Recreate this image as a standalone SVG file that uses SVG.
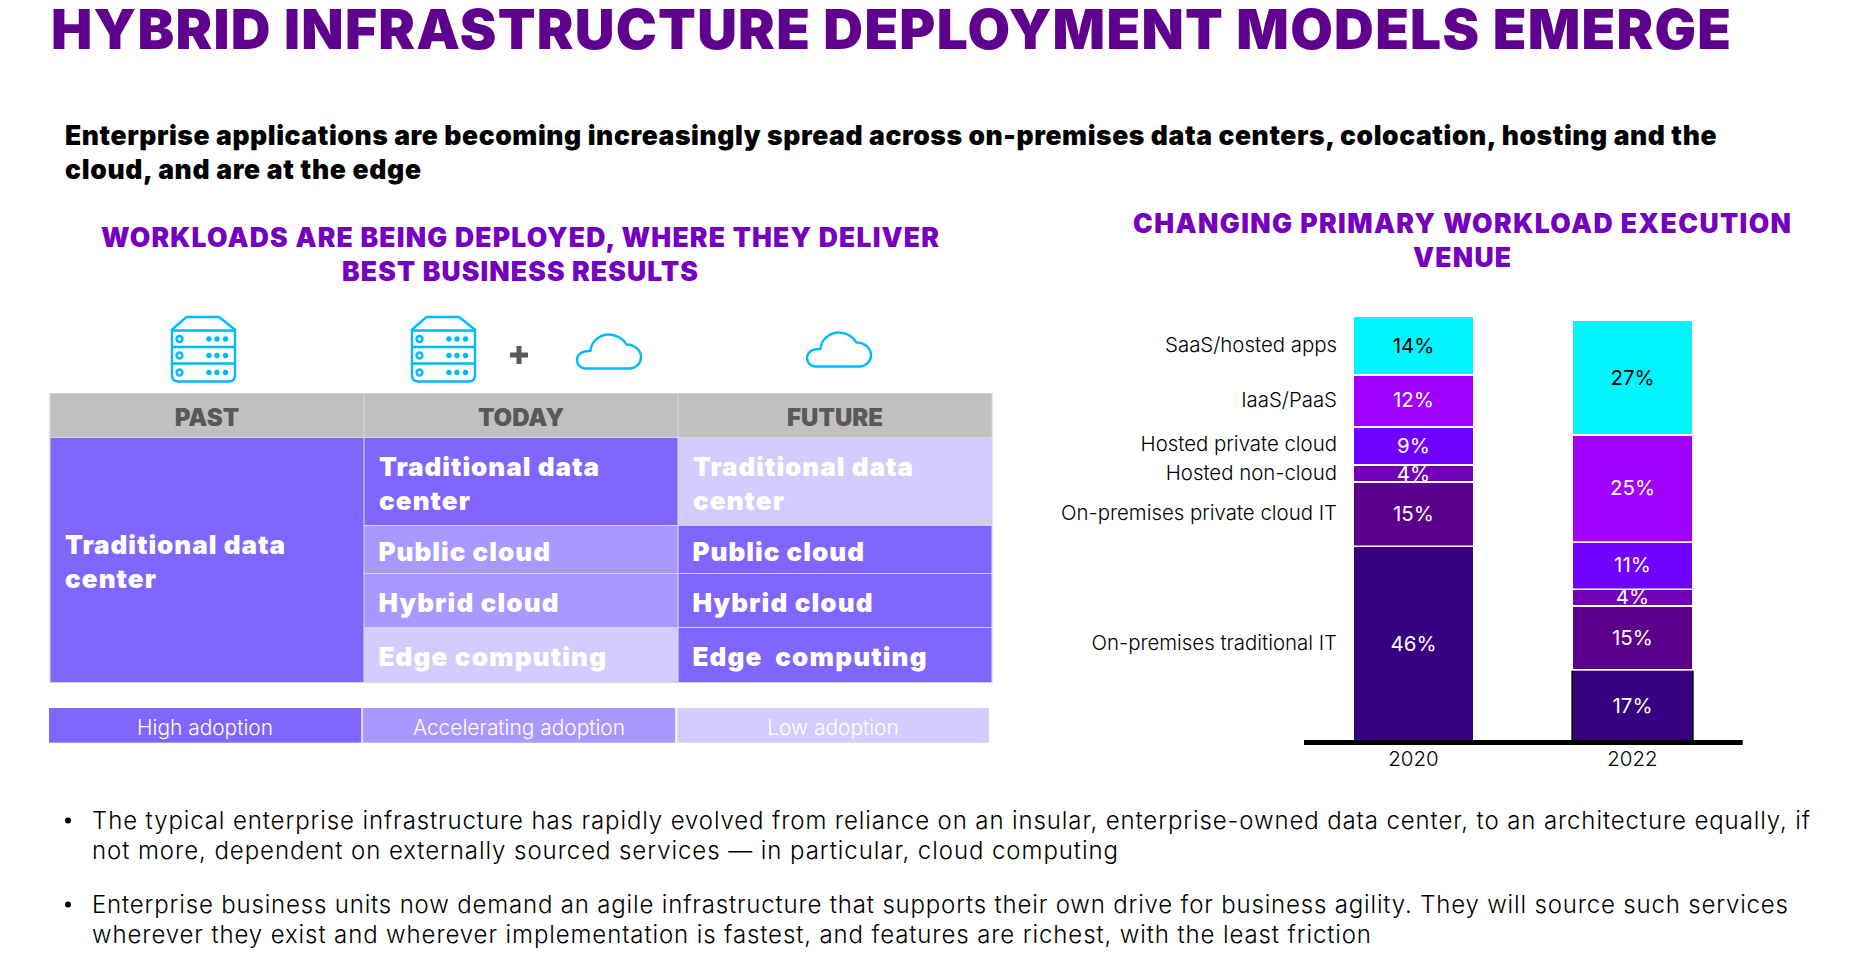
<svg xmlns="http://www.w3.org/2000/svg" xmlns:xlink="http://www.w3.org/1999/xlink" width="1866" height="966" viewBox="0 0 1866 966">
<style>
text{font-family:Inter,"Liberation Sans",sans-serif}
.title{font-size:55px;font-weight:900;fill:#5f008f}
.sub{font-size:26.500px;font-weight:900;fill:#000}
.sec{font-size:26.500px;font-weight:900;fill:#7500c0;text-anchor:middle}
.hd{font-size:24px;font-weight:900;fill:#595959;text-anchor:middle}
.cell{font-size:26px;font-weight:900;fill:#fff}
.ad{font-size:20.900px;font-weight:300;fill:#fff;text-anchor:middle}
.body{font-size:24px;font-weight:350;fill:#000}
.lab{font-size:20.400px;font-weight:350;fill:#000;text-anchor:end}
.pw{font-size:20.500px;font-weight:400;fill:#fff;text-anchor:middle}
.pk{font-size:20.500px;font-weight:400;fill:#000;text-anchor:middle}
.yr{font-size:20.500px;font-weight:350;fill:#000;text-anchor:middle}
.c1{fill:#8066ff}.c2{fill:#a898ff}.c3{fill:#d4ccff}
.g{fill:#c0c0c0}
.line{stroke:#d4d4d4;stroke-width:1.200;fill:none}
.ic{fill:none;stroke:#00baff;stroke-width:2.400;stroke-linejoin:round}
.icf{fill:#00baff}
.icr{fill:none;stroke:#00baff;stroke-width:2.400}
</style>
<defs>
<g id="server">
<path class="ic" d="M0 13.500L15.500 0H48L65 13.500M1 13.500H64V58Q64 64.500 58 64.500H7Q1 64.500 1 58ZM1 30H64M1 46.500H64"/>
<circle class="icr" cx="8.500" cy="22" r="3"/><circle class="icr" cx="8.500" cy="38.500" r="3"/><circle class="icr" cx="8.500" cy="55.500" r="3"/>
<g class="icf">
<circle cx="38" cy="22" r="2.700"/><circle cx="46" cy="22" r="2.700"/><circle cx="54.500" cy="22" r="2.700"/>
<circle cx="38" cy="38.500" r="2.700"/><circle cx="46" cy="38.500" r="2.700"/><circle cx="54.500" cy="38.500" r="2.700"/>
<circle cx="38" cy="55.500" r="2.700"/><circle cx="46" cy="55.500" r="2.700"/><circle cx="54.500" cy="55.500" r="2.700"/>
</g>
</g>
<path id="cloud" class="ic" d="M8.500 34H52C59 34 64 29 64 22.500C64 15.500 57.500 10 49.500 10C46 4 39 0 32 0C22 0 14 7.500 13.500 16.500C6 16 0 19.500 0 25.500C0 30.500 4 34 8.500 34Z"/>
</defs>
<rect width="1866" height="966" fill="#fff"/>
<g id="heading">
<text class="title" x="51" y="49" textLength="1680">HYBRID INFRASTRUCTURE DEPLOYMENT MODELS EMERGE</text>
<text class="sub" x="65" y="144.500" textLength="1651.500">Enterprise applications are becoming increasingly spread across on-premises data centers, colocation, hosting and the</text>
<text class="sub" x="65" y="178.500" textLength="356">cloud, and are at the edge</text>
</g>
<g id="left-title">
<text class="sec" x="520" y="246.500" textLength="838">WORKLOADS ARE BEING DEPLOYED, WHERE THEY DELIVER</text>
<text class="sec" x="520" y="280.500" textLength="356">BEST BUSINESS RESULTS</text>
</g>
<g id="icons">
<use xlink:href="#server" href="#server" x="171" y="317"/>
<use xlink:href="#server" href="#server" x="411" y="317"/>
<path d="M516.500 346H521.500V352.500H528V357.500H521.500V364H516.500V357.500H510V352.500H516.500Z" fill="#595959"/>
<use xlink:href="#cloud" href="#cloud" x="577" y="334.500"/>
<use xlink:href="#cloud" href="#cloud" x="807" y="332.500"/>
</g>
<g id="table">
<g id="header">
<rect class="g" x="50" y="393.500" width="942" height="44"/>
<text class="hd" x="207" y="425.700">PAST</text>
<text class="hd" x="521" y="425.700">TODAY</text>
<text class="hd" x="835" y="425.700">FUTURE</text>
</g>
<g id="past-dc"><rect class="c1" x="50" y="437.500" width="314" height="245"/>
<text class="cell" x="65" y="553.500" textLength="220">Traditional data</text><text class="cell" x="65" y="587.500" textLength="91">center</text></g>
<g id="today-dc"><rect class="c1" x="364" y="437.500" width="314" height="88"/>
<text class="cell" x="379" y="475.500" textLength="220">Traditional data</text><text class="cell" x="379" y="509.500" textLength="91">center</text></g>
<g id="today-public"><rect class="c2" x="364" y="525.500" width="314" height="48"/><text class="cell" x="378.500" y="560.700" textLength="171.500">Public cloud</text></g>
<g id="today-hybrid"><rect class="c2" x="364" y="573.500" width="314" height="54"/><text class="cell" x="378.500" y="611.700" textLength="180">Hybrid cloud</text></g>
<g id="today-edge"><rect class="c3" x="364" y="627.500" width="314" height="55"/><text class="cell" x="378.500" y="665.500" textLength="227.500">Edge computing</text></g>
<g id="future-dc"><rect class="c3" x="678" y="437.500" width="314" height="88"/>
<text class="cell" x="693" y="475.500" textLength="220">Traditional data</text><text class="cell" x="693" y="509.500" textLength="91">center</text></g>
<g id="future-public"><rect class="c1" x="678" y="525.500" width="314" height="48"/><text class="cell" x="692.500" y="560.700" textLength="171.500">Public cloud</text></g>
<g id="future-hybrid"><rect class="c1" x="678" y="573.500" width="314" height="54"/><text class="cell" x="692.500" y="611.700" textLength="180">Hybrid cloud</text></g>
<g id="future-edge"><rect class="c1" x="678" y="627.500" width="314" height="55"/><text class="cell" x="692.500" y="665.500" textLength="234" xml:space="preserve">Edge  computing</text></g>
<path class="line" d="M50 393.500H992V682.500H50ZM50 437.500H992M364 393.500V682.500M678 393.500V682.500M364 525.500H992M364 573.500H992M364 627.500H992"/>
</g>
<g id="adoption">
<rect class="c1" x="49" y="708" width="312.300" height="34.700"/><text class="ad" x="205" y="735">High adoption</text>
<rect class="c2" x="362.700" y="708" width="312.600" height="34.700"/><text class="ad" x="519" y="735">Accelerating adoption</text>
<rect class="c3" x="677.300" y="708" width="311.700" height="34.700"/><text class="ad" x="833" y="735">Low adoption</text>
</g>
<g id="bullets">
<circle cx="68" cy="820.500" r="3"/>
<text class="body" x="92" y="829.400" textLength="1718">The typical enterprise infrastructure has rapidly evolved from reliance on an insular, enterprise-owned data center, to an architecture equally, if</text>
<text class="body" x="92" y="859.400" textLength="1026">not more, dependent on externally sourced services — in particular, cloud computing</text>
<circle cx="68" cy="904.500" r="3"/>
<text class="body" x="92" y="913.200" textLength="1696">Enterprise business units now demand an agile infrastructure that supports their own drive for business agility. They will source such services</text>
<text class="body" x="92" y="943.200" textLength="1279">wherever they exist and wherever implementation is fastest, and features are richest, with the least friction</text>
</g>
<g id="chart">
<g id="right-title">
<text class="sec" x="1462" y="233" textLength="658">CHANGING PRIMARY WORKLOAD EXECUTION</text>
<text class="sec" x="1462" y="267" textLength="98">VENUE</text>
</g>
<g id="labels">
<text class="lab" x="1337" y="351.500">SaaS/hosted apps</text>
<text class="lab" x="1337" y="407">IaaS/PaaS</text>
<text class="lab" x="1337" y="451">Hosted private cloud</text>
<text class="lab" x="1337" y="480">Hosted non-cloud</text>
<text class="lab" x="1337" y="520">On-premises private cloud IT</text>
<text class="lab" x="1337" y="650">On-premises traditional IT</text>
</g>
<g id="bar-2020">
<rect x="1354" y="317" width="119" height="57" fill="#00f5ff"/>
<rect x="1354" y="376" width="119" height="50" fill="#a100ff"/>
<rect x="1354" y="428" width="119" height="36" fill="#7000ff"/>
<rect x="1354" y="466" width="119" height="15" fill="#7300b8"/>
<rect x="1354" y="483" width="119" height="62.500" fill="#5c008c"/>
<rect x="1354" y="547" width="119" height="193" fill="#360080"/>
<text class="pk" x="1413.500" y="352.500">14%</text><text class="pw" x="1413.500" y="407">12%</text><text class="pw" x="1413.500" y="452.500">9%</text><text class="pw" x="1413.500" y="480.500">4%</text><text class="pw" x="1413.500" y="520.500">15%</text><text class="pw" x="1413.500" y="650.500">46%</text>
<text class="yr" x="1413.500" y="766">2020</text>
</g>
<g id="bar-2022">
<rect x="1573" y="321" width="119" height="113" fill="#00f5ff"/>
<rect x="1573" y="436" width="119" height="105.300" fill="#a100ff"/>
<rect x="1573" y="543" width="119" height="45.500" fill="#7000ff"/>
<rect x="1573" y="590" width="119" height="15" fill="#7300b8"/>
<rect x="1573" y="607" width="119" height="62" fill="#5c008c"/>
<rect x="1572.200" y="670.700" width="120.600" height="70" fill="#360080"/>
<path d="M1572.200 670.700V741M1692.800 670.700V741" stroke="#000" stroke-width="1.700" fill="none"/>
<text class="pk" x="1632.500" y="384.500">27%</text><text class="pw" x="1632.500" y="494.500">25%</text><text class="pw" x="1632.500" y="572">11%</text><text class="pw" x="1632.500" y="604">4%</text><text class="pw" x="1632.500" y="644.500">15%</text><text class="pw" x="1632.500" y="712.500">17%</text>
<text class="yr" x="1632.500" y="766">2022</text>
</g>
<rect id="axis" x="1304" y="740" width="438.700" height="5" fill="#000"/>
</g>
</svg>
